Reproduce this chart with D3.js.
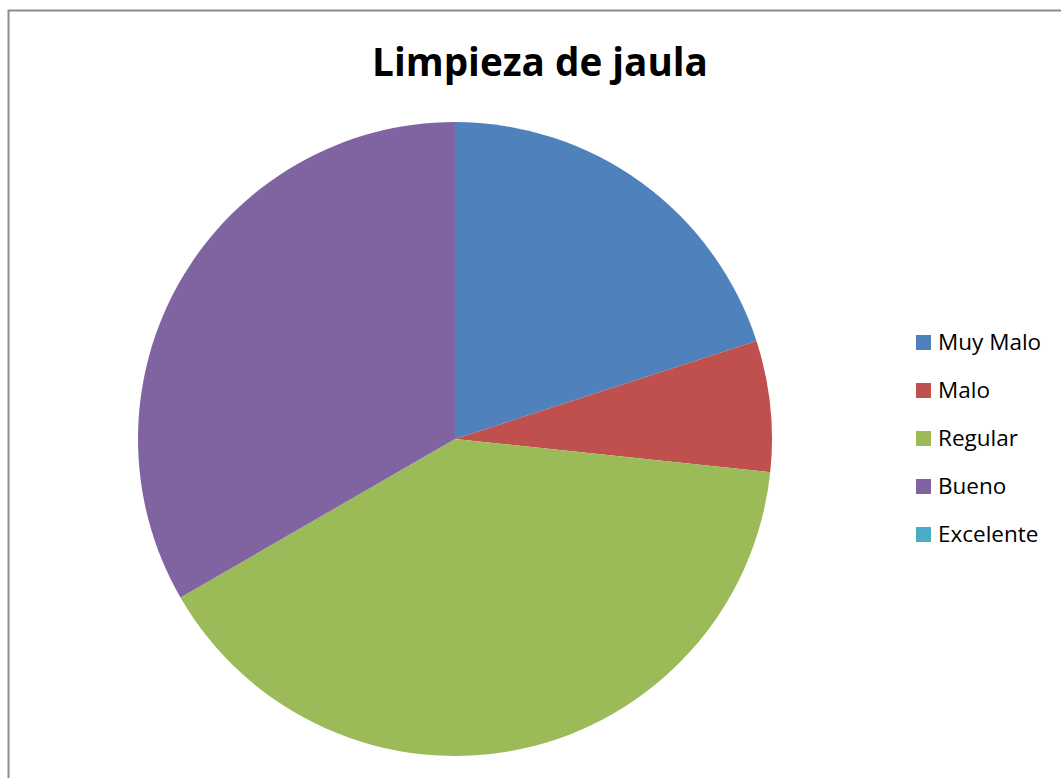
<!DOCTYPE html>
<html>
<head>
<meta charset="utf-8">
<script src="https://cdn.jsdelivr.net/npm/d3@7"></script>
<style>
  body { margin: 0; background: #fff; }
  text { font-family: "Open Sans", "Noto Sans", sans-serif; }
</style>
</head>
<body>
<script>
// chart data
const categories = ["Muy Malo", "Malo", "Regular", "Bueno", "Excelente"];
const values = [3, 1, 6, 5, 0];
const colors = ["#4F81BD", "#C0504D", "#9BBB59", "#8064A2", "#4BACC6"];
const title = "Limpieza de jaula";

const width = 1061, height = 778;

const svg = d3.select("body").append("svg")
    .attr("width", width)
    .attr("height", height);

// chart frame (runs past the right and bottom edges)
svg.append("rect")
    .attr("x", 8.5)
    .attr("y", 10.5)
    .attr("width", 1100)
    .attr("height", 800)
    .attr("fill", "#fff")
    .attr("stroke", "#8c8c8c")
    .attr("stroke-width", 2);

// title, fitted to the reference width
const t = svg.append("text")
    .attr("x", 540)
    .attr("y", 76)
    .attr("text-anchor", "middle")
    .attr("font-weight", "bold")
    .attr("font-size", 44)
    .text(title);
const tw = t.node().getComputedTextLength();
t.attr("font-size", 44 * 336 / tw);

// pie
const cx = 455, cy = 439, r = 317;
const pie = d3.pie().sort(null).value(d => d.value);
const arc = d3.arc().innerRadius(0).outerRadius(r);
const data = categories.map((c, i) => ({ name: c, value: values[i], color: colors[i] }));

svg.append("g")
    .attr("transform", "translate(" + cx + "," + cy + ")")
  .selectAll("path")
  .data(pie(data))
  .join("path")
    .attr("d", arc)
    .attr("fill", d => d.data.color);

// legend
const y = d3.scalePoint().domain(categories).range([342, 534]);
const leg = svg.append("g").selectAll("g")
  .data(data)
  .join("g")
    .attr("transform", d => "translate(916," + y(d.name) + ")");

leg.append("rect")
    .attr("x", 0)
    .attr("y", -7)
    .attr("width", 15)
    .attr("height", 15)
    .attr("fill", d => d.color);

leg.append("text")
    .attr("x", 22)
    .attr("y", 8)
    .attr("font-size", 22.5)
    .attr("fill", "#000")
    .text(d => d.name);
</script>
</body>
</html>
